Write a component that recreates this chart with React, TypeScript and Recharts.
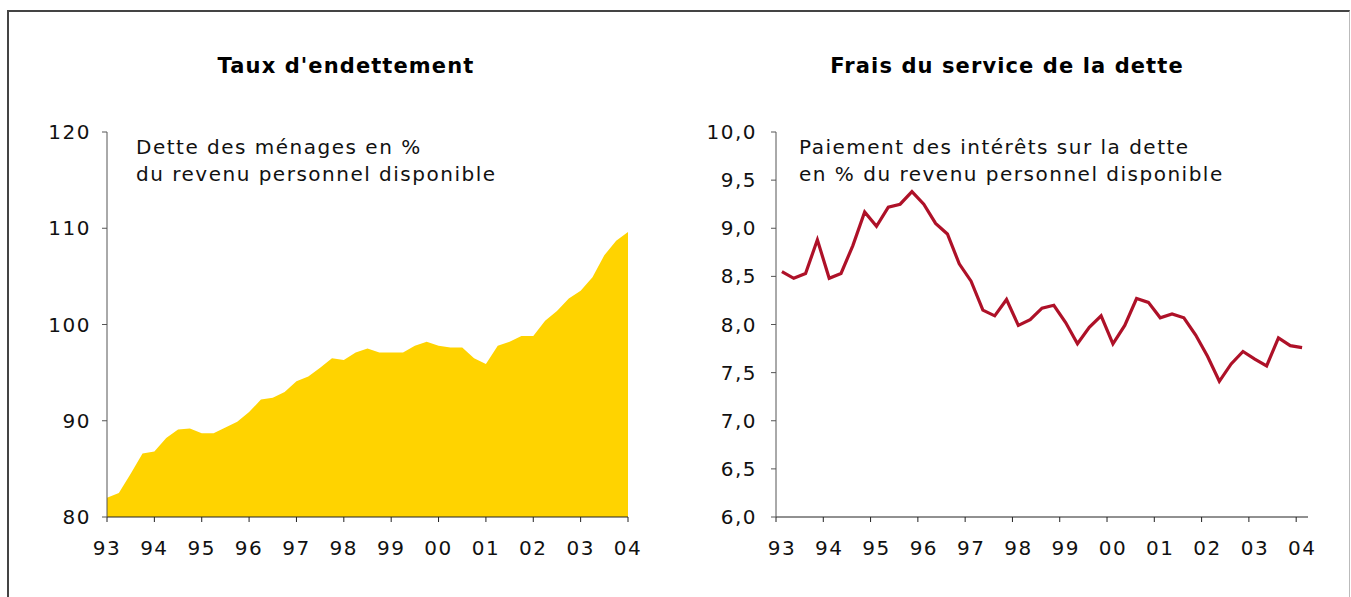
import React from 'react';
import { AreaChart, Area, LineChart, Line, XAxis, YAxis } from 'recharts';

// quarterly, 93Q1 .. 04Q1
const yearLabels = ['93', '94', '95', '96', '97', '98', '99', '00', '01', '02', '03', '04'];

const debtRatio = [
    82.0, 82.5, 84.5, 86.6, 86.8, 88.2, 89.1, 89.2, 88.7, 88.7, 89.3, 89.9,
    90.9, 92.2, 92.4, 93.0, 94.1, 94.6, 95.5, 96.5, 96.3, 97.1, 97.5, 97.1,
    97.1, 97.1, 97.8, 98.2, 97.8, 97.6, 97.6, 96.5, 95.9, 97.8, 98.2, 98.8,
    98.8, 100.4, 101.4, 102.7, 103.5, 104.9, 107.2, 108.7, 109.6,
];

const interestShare = [
    8.55, 8.48, 8.53, 8.88, 8.48, 8.53, 8.82, 9.17, 9.02, 9.22, 9.25, 9.38,
    9.25, 9.05, 8.94, 8.63, 8.45, 8.15, 8.09, 8.26, 7.99, 8.05, 8.17, 8.20,
    8.02, 7.80, 7.97, 8.09, 7.80, 7.99, 8.27, 8.23, 8.07, 8.11, 8.07, 7.89,
    7.67, 7.41, 7.59, 7.72, 7.64, 7.57, 7.86, 7.78, 7.76,
];

const debtTicks = [80, 90, 100, 110, 120];
const interestTicks = [6, 6.5, 7, 7.5, 8, 8.5, 9, 9.5, 10];

const debtData = debtRatio.map((v, i) => ({ q: i, value: v }));
const interestData = interestShare.map((v, i) => ({ q: i, value: v }));

const yearTicksLeft = yearLabels.map((_, k) => k * 4);
const yearTicksRight = yearLabels.map((_, k) => k * 4 - 0.5);

const FONT = '"DejaVu Sans", Verdana, sans-serif';
const tickStyle = { fontSize: 20, fill: '#111', fontFamily: FONT, letterSpacing: 1.5 };

const titleStyle: React.CSSProperties = {
    position: 'absolute',
    width: 500,
    textAlign: 'center',
    fontFamily: FONT,
    fontWeight: 'bold',
    fontSize: 21,
    letterSpacing: 1.1,
    lineHeight: '27px',
    color: '#000',
};

const noteStyle: React.CSSProperties = {
    position: 'absolute',
    fontFamily: FONT,
    fontSize: 20,
    letterSpacing: 1.5,
    lineHeight: '27px',
    color: '#111',
    whiteSpace: 'pre',
};

// labels sit in the middle of the year, half a quarter to the right of the tick
const ShiftedTick = (props: any) => {
    const { x, y, payload } = props;
    const k = Math.round((payload.value + 0.5) / 4);
    return (
        <text x={x + 6} y={y} dy="0.71em" textAnchor="middle" {...tickStyle}>
            {yearLabels[k]}
        </text>
    );
};

export default function App() {
    return (
        <div style={{ position: 'absolute', left: 0, top: 0, width: 1351, height: 597, background: '#fff', overflow: 'hidden' }}>
            <div
                style={{
                    position: 'absolute',
                    left: 7,
                    top: 10,
                    width: 1340,
                    height: 620,
                    borderLeft: '2px solid #444',
                    borderTop: '2px solid #444',
                    borderRight: '1px solid #bbb',
                }}
            />

            <div style={{ ...titleStyle, left: 96, top: 53 }}>Taux d'endettement</div>
            <div style={{ ...titleStyle, left: 757, top: 53 }}>Frais du service de la dette</div>

            <div style={{ position: 'absolute', left: 0, top: 0 }}>
                <AreaChart
                    width={680}
                    height={597}
                    data={debtData}
                    margin={{ top: 132, right: 52, left: 47, bottom: 40 }}
                >
                    <XAxis
                        dataKey="q"
                        type="number"
                        domain={[0, 44]}
                        ticks={yearTicksLeft}
                        tickFormatter={(v: number) => yearLabels[v / 4]}
                        interval={0}
                        height={40}
                        tickSize={5}
                        tickMargin={19}
                        stroke="#222"
                        tick={tickStyle}
                    />
                    <YAxis
                        type="number"
                        domain={[80, 120]}
                        ticks={debtTicks}
                        width={60}
                        tickSize={5}
                        tickMargin={11}
                        stroke="#555"
                        tick={tickStyle}
                    />
                    <Area
                        type="linear"
                        dataKey="value"
                        stroke="none"
                        fill="#FFD300"
                        fillOpacity={1}
                        isAnimationActive={false}
                    />
                </AreaChart>
            </div>

            <div style={{ position: 'absolute', left: 680, top: 0 }}>
                <LineChart
                    width={671}
                    height={597}
                    data={interestData}
                    margin={{ top: 132, right: 43, left: 26, bottom: 40 }}
                >
                    <XAxis
                        dataKey="q"
                        type="number"
                        domain={[-0.5, 44.5]}
                        ticks={yearTicksRight}
                        interval={0}
                        height={40}
                        tickSize={5}
                        tickMargin={19}
                        stroke="#222"
                        tick={<ShiftedTick />}
                    />
                    <YAxis
                        type="number"
                        domain={[6, 10]}
                        ticks={interestTicks}
                        width={70}
                        tickSize={5}
                        tickMargin={14}
                        stroke="#555"
                        tick={tickStyle}
                        tickFormatter={(v: number) => v.toFixed(1).replace('.', ',')}
                    />
                    <Line
                        type="linear"
                        dataKey="value"
                        stroke="#AE1128"
                        strokeWidth={3.2}
                        dot={false}
                        isAnimationActive={false}
                    />
                </LineChart>
            </div>

            <div style={{ ...noteStyle, left: 136, top: 134 }}>
                {'Dette des ménages en %\ndu revenu personnel disponible'}
            </div>
            <div style={{ ...noteStyle, left: 799, top: 134 }}>
                {'Paiement des intérêts sur la dette\nen % du revenu personnel disponible'}
            </div>
        </div>
    );
}
